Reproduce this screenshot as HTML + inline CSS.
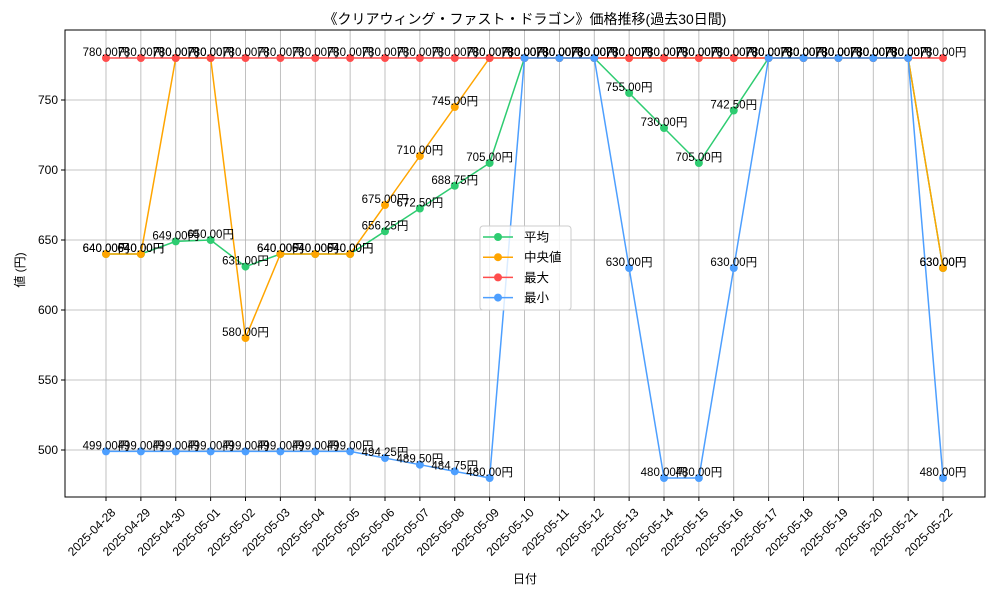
<!DOCTYPE html>
<html><head><meta charset="utf-8"><style>
body{margin:0;background:#fff;}
svg text{font-family:"Liberation Sans","Noto Sans CJK JP",sans-serif;}
</style></head><body>
<svg id="c" width="1000" height="600" xmlns="http://www.w3.org/2000/svg"></svg>
<script>
const dates=["2025-04-28","2025-04-29","2025-04-30","2025-05-01","2025-05-02","2025-05-03","2025-05-04","2025-05-05","2025-05-06","2025-05-07","2025-05-08","2025-05-09","2025-05-10","2025-05-11","2025-05-12","2025-05-13","2025-05-14","2025-05-15","2025-05-16","2025-05-17","2025-05-18","2025-05-19","2025-05-20","2025-05-21","2025-05-22"];
const meanVals=[640,640,649,650,631,640,640,640,656.25,672.5,688.75,705,780,780,780,755,730,705,742.5,780,780,780,780,780,630];
const medianVals=[640,640,780,780,580,640,640,640,675,710,745,780,780,780,780,780,780,780,780,780,780,780,780,780,630];
const maxVals=[780,780,780,780,780,780,780,780,780,780,780,780,780,780,780,780,780,780,780,780,780,780,780,780,780];
const minVals=[499,499,499,499,499,499,499,499,494.25,489.5,484.75,480,780,780,780,630,480,480,630,780,780,780,780,780,480];
const yTicks=[500,550,600,650,700,750];
const seriesNames=["平均","中央値","最大","最小"];
const colors=["#2ecc71","#ffa500","#ff4d4d","#4d9fff"];

const svg=document.getElementById('c');const NS="http://www.w3.org/2000/svg";
function el(t,a,p){const e=document.createElementNS(NS,t);for(const k in a)e.setAttribute(k,a[k]);(p||svg).appendChild(e);return e;}
const L=65,R=985,T=30,B=497;
const x=i=>106+i*(943-106)/(dates.length-1);
const y=v=>450-(v-500)*1.4;
const grid=el('g',{});


dates.forEach((d,i)=>{el('line',{x1:x(i),x2:x(i),y1:T,y2:B,stroke:'#b0b0b0','stroke-width':0.8},grid);
 el('line',{x1:x(i),x2:x(i),y1:B,y2:B+4,stroke:'#000'},grid);
 const t=el('text',{x:0,y:0,'font-size':12,'text-anchor':'end',transform:`translate(${x(i)+4},${B+10}) rotate(-45)`,'dominant-baseline':'hanging'});
 t.textContent=d;});
yTicks.forEach(v=>{el('line',{x1:L,x2:R,y1:y(v),y2:y(v),stroke:'#b0b0b0','stroke-width':0.8},grid);
 el('line',{x1:L-4,x2:L,y1:y(v),y2:y(v),stroke:'#000'},grid);
 const t=el('text',{x:L-7,y:y(v)+4,'font-size':12,'text-anchor':'end'});t.textContent=v;
 });
const all=[meanVals,medianVals,maxVals,minVals];
all.forEach((vals,s)=>{const g=el('g',{});
 
 
 el('polyline',{points:vals.map((v,i)=>x(i)+','+y(v)).join(' '),fill:'none',stroke:colors[s],'stroke-width':1.5},g);
 vals.forEach((v,i)=>{const c=el('circle',{cx:x(i),cy:y(v),r:4,fill:colors[s]},g);
  });
});
all.forEach((vals,s)=>{vals.forEach((v,i)=>{const t=el('text',{x:x(i),y:y(v)-2,'font-size':11.5,'text-anchor':'middle',fill:'#000'});
 t.textContent=v.toFixed(2)+'円';});});
el('rect',{x:L,y:T,width:R-L,height:B-T,fill:'none',stroke:'#000','stroke-width':1});
let t=el('text',{x:525,y:24,'font-size':14,'text-anchor':'middle'});t.textContent='《クリアウィング・ファスト・ドラゴン》価格推移(過去30日間)';

t=el('text',{x:525,y:583,'font-size':12,'text-anchor':'middle'});t.textContent='日付';

t=el('text',{x:0,y:0,'font-size':12,'text-anchor':'middle',transform:'translate(24,270) rotate(-90)'});t.textContent='値 (円)';

const lg=el('g',{});


el('rect',{x:480,y:226,width:91,height:84,rx:3,fill:'rgba(255,255,255,0.8)',stroke:'#ccc'},lg);
seriesNames.forEach((n,i)=>{const yy=237+i*20.2;
 el('line',{x1:483,x2:513,y1:yy,y2:yy,stroke:colors[i],'stroke-width':1.5},lg);
 el('circle',{cx:498,cy:yy,r:4,fill:colors[i]},lg);
 const tt=el('text',{x:524,y:yy+4.5,'font-size':12.5},lg);tt.textContent=n;
 });
</script>
</body></html>
